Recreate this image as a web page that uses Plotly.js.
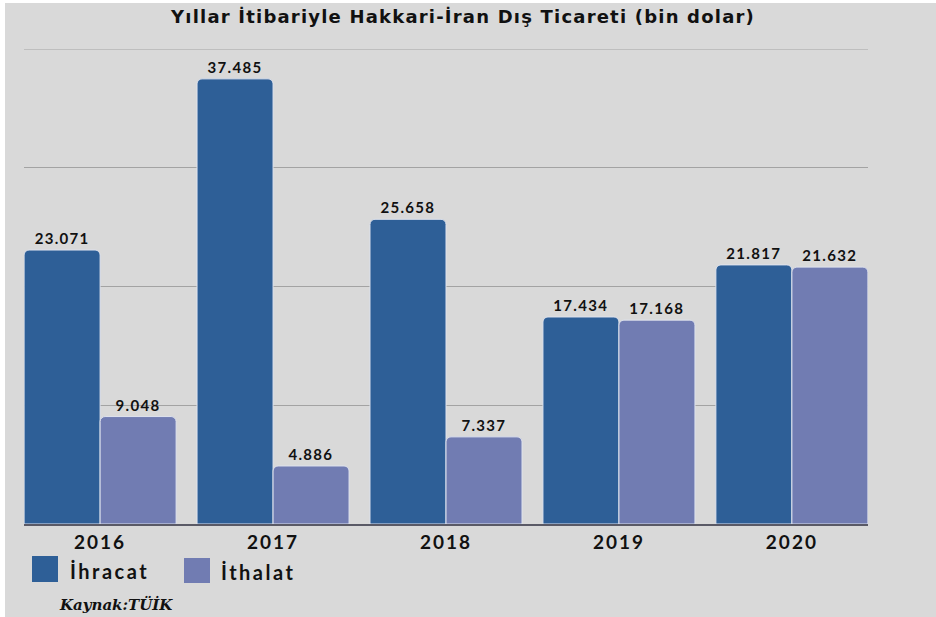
<!DOCTYPE html>
<html>
<head>
<meta charset="utf-8">
<script src="https://cdn.plot.ly/plotly-3.0.1.min.js"></script>
<style>
  body { margin: 0; background: #ffffff; }
  #chart { position: absolute; left: 5px; top: 3px; width: 931px; height: 614px; }
  #chart text.bartext { letter-spacing: 1.3px; }
  #chart g.xtick text { letter-spacing: 2px; }
  #chart text.gtitle { letter-spacing: 1.2px; }
</style>
</head>
<body>
<div id="chart"></div>
<script>
var years = ["2016", "2017", "2018", "2019", "2020"];
var ihracat = [23071, 37485, 25658, 17434, 21817];
var ithalat = [9048, 4886, 7337, 17168, 21632];
var seriesNames = ["İhracat", "İthalat"];
var seriesColors = ["#2e5f97", "#717cb2"];

// 23071 -> "23.071"
function fmt(v) {
  return (v / 1000).toFixed(3);
}

var valueFont = {family: "Lato, sans-serif", size: 15, color: "#111111", weight: "bold"};

var traces = [ihracat, ithalat].map(function(vals, i) {
  return {
    type: "bar",
    name: seriesNames[i],
    x: years,
    y: vals,
    text: vals.map(fmt),
    textposition: "outside",
    cliponaxis: false,
    constraintext: "none",
    textfont: valueFont,
    marker: {color: seriesColors[i], line: {color: "#dfe3ee", width: 1}},
    hoverinfo: "x+y"
  };
});

// legend drawn by hand so the swatches are big squares
var legShapes = [
  {x0: 0.0095, x1: 0.0403, y0: -0.1221, y1: -0.0674},
  {x0: 0.1896, x1: 0.2204, y0: -0.1242, y1: -0.0716}
].map(function(s, i) {
  return {type: "rect", xref: "paper", yref: "paper",
    x0: s.x0, x1: s.x1, y0: s.y0, y1: s.y1,
    fillcolor: seriesColors[i], line: {width: 0}};
});
// plotly drops the grid line sitting on the top edge, so draw it
legShapes.push({type: "line", xref: "paper", yref: "y", x0: 0, x1: 1,
  y0: 40000, y1: 40000, layer: "below", line: {color: "#a3a3a3", width: 1}});

var legText = [{x: 0.0521, y: -0.099}, {x: 0.231, y: -0.101}].map(function(p, i) {
  return {xref: "paper", yref: "paper", x: p.x, y: p.y,
    xanchor: "left", yanchor: "middle", showarrow: false,
    text: "<span style='letter-spacing:2.5px'>" + seriesNames[i] + "</span>",
    font: {family: "Lato, sans-serif", size: 20, color: "#111111", weight: "bold"}};
});

var layout = {
  width: 931,
  height: 614,
  margin: {l: 19, r: 68, t: 46, b: 93},
  paper_bgcolor: "#d9d9d9",
  plot_bgcolor: "#d9d9d9",
  showlegend: false,
  barmode: "group",
  bargap: 0.121,
  bargroupgap: 0,
  barcornerradius: 5,
  title: {
    text: "Yıllar İtibariyle Hakkari-İran Dış Ticareti (bin dolar)",
    font: {family: "DejaVu Sans, sans-serif", size: 18, color: "#111111", weight: "bold"},
    xref: "container", x: 0.492,
    yref: "container", y: 0.977, yanchor: "middle"
  },
  xaxis: {
    type: "category",
    range: [-0.44, 4.44],
    showline: true,
    linecolor: "#5a5a66",
    linewidth: 1.5,
    ticks: "",
    tickfont: {family: "Lato, sans-serif", size: 19, color: "#111111", weight: "bold"},
    fixedrange: true
  },
  yaxis: {
    range: [0, 40000],
    tickvals: [10000, 20000, 30000, 40000],
    showticklabels: false,
    gridcolor: "#a3a3a3",
    gridwidth: 1,
    zeroline: false,
    fixedrange: true
  },
  shapes: legShapes,
  annotations: legText.concat([{
    xref: "paper", yref: "paper", x: 0.039, y: -0.1705,
    xanchor: "left", yanchor: "middle", showarrow: false,
    text: "<b><i>Kaynak:TÜİK</i></b>",
    font: {family: "DejaVu Serif, serif", size: 15, color: "#111111"}
  }])
};

Plotly.newPlot("chart", traces, layout, {displayModeBar: false});
</script>
</body>
</html>
